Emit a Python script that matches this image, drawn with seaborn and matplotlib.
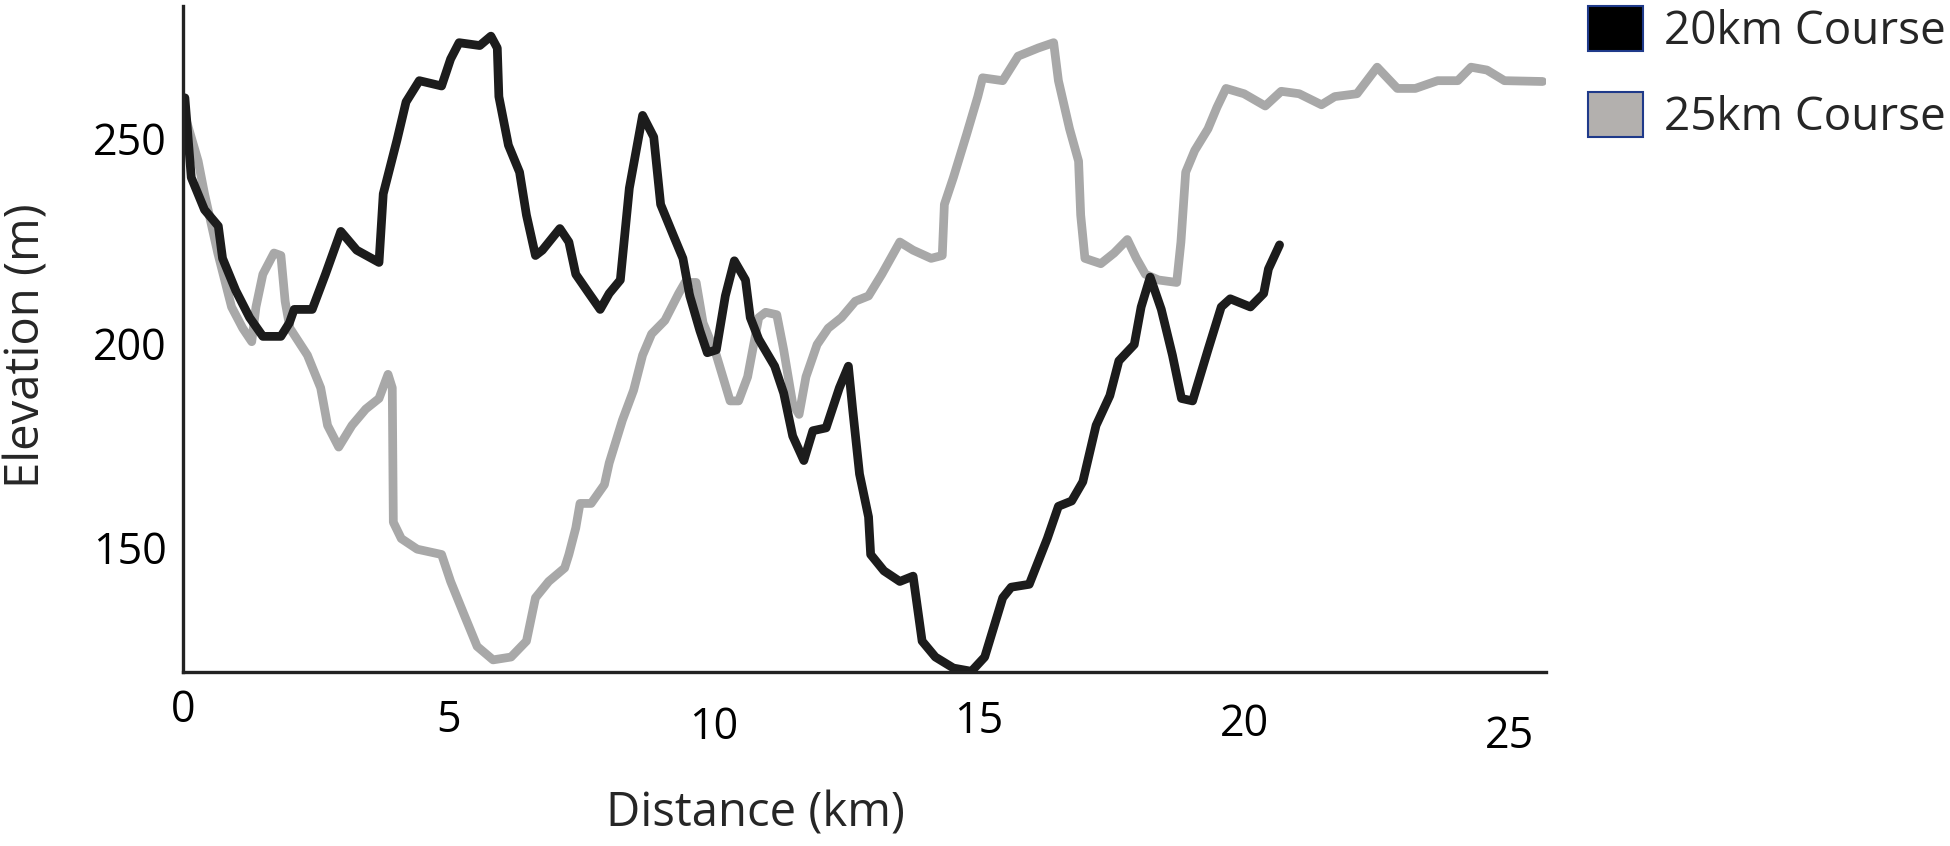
import pandas as pd
import matplotlib
matplotlib.use("Agg")
import matplotlib.pyplot as plt
from matplotlib.patches import Patch
import seaborn as sns

# 20 km course profile (distance km, elevation m)
km_20 = [0.03, 0.15, 0.4, 0.66, 0.74, 0.99, 1.25, 1.5, 1.84, 2.0, 2.09, 2.43, 2.68, 2.97,
         3.27, 3.69, 3.77, 4.03, 4.2, 4.45, 4.87, 5.04, 5.2, 5.59, 5.8, 5.92, 5.95, 6.13,
         6.34, 6.47, 6.64, 6.77, 7.1, 7.27, 7.4, 7.65, 7.86, 8.03, 8.24, 8.41, 8.66, 8.87,
         9.0, 9.25, 9.42, 9.55, 9.74, 9.88, 10.05, 10.22, 10.39, 10.6, 10.69, 10.85, 11.15,
         11.32, 11.49, 11.7, 11.87, 12.12, 12.37, 12.54, 12.62, 12.75, 12.92, 12.96, 13.21,
         13.51, 13.76, 13.93, 14.18, 14.52, 14.86, 15.11, 15.45, 15.61, 15.95, 16.29, 16.5,
         16.75, 16.96, 17.21, 17.47, 17.64, 17.93, 18.06, 18.23, 18.44, 18.65, 18.82, 19.03,
         19.32, 19.57, 19.74, 20.12, 20.37, 20.46, 20.67]
elev_20 = [260, 240.5, 232.6, 228.6, 220.7, 212.8, 206.2, 201.6, 201.6, 204.9, 208.2, 208.2,
           216.8, 227.3, 222.7, 219.7, 236.5, 249.7, 259, 264.2, 262.9, 269.5, 273.5, 272.8,
           275.1, 272.2, 260.3, 248.4, 241.8, 231.3, 221.4, 222.7, 228, 224.7, 216.8, 212.1,
           208.2, 212.1, 215.4, 237.9, 255.7, 250.4, 233.9, 226, 220.7, 211.5, 203, 197.6,
           198.3, 211.5, 220.1, 215.4, 206.2, 200.9, 194.3, 187.7, 177.2, 171.2, 178.5,
           179.2, 189, 194.3, 183.8, 167.9, 157.4, 148.2, 144.2, 141.6, 142.9, 127, 123.1,
           120.4, 119.6, 123.1, 137.6, 140.2, 140.9, 152.1, 160, 161.3, 166, 179.8, 187.1,
           195.6, 199.6, 208.8, 216.1, 208.2, 197, 186.4, 185.8, 198.3, 208.8, 210.8, 208.8,
           212.1, 218.1, 224]

# 25 km course profile
km_25 = [0.0, 0.28, 0.4, 0.65, 0.91, 1.12, 1.29, 1.37, 1.5, 1.71, 1.84, 1.92, 2.01, 2.34,
         2.59, 2.72, 2.93, 3.18, 3.44, 3.69, 3.86, 3.94, 3.96, 4.11, 4.41, 4.87, 5.04, 5.29,
         5.54, 5.84, 6.18, 6.47, 6.64, 6.89, 7.19, 7.27, 7.4, 7.48, 7.69, 7.94, 8.03, 8.28,
         8.49, 8.66, 8.83, 9.08, 9.34, 9.46, 9.67, 9.8, 10.05, 10.31, 10.47, 10.64, 10.85,
         10.98, 11.19, 11.32, 11.49, 11.61, 11.74, 11.95, 12.16, 12.41, 12.67, 12.92, 13.17,
         13.51, 13.76, 14.1, 14.31, 14.35, 14.52, 14.77, 14.98, 15.07, 15.45, 15.74, 16.12,
         16.41, 16.5, 16.71, 16.88, 16.92, 17.0, 17.3, 17.55, 17.8, 17.97, 18.14, 18.39,
         18.73, 18.81, 18.9, 19.07, 19.32, 19.49, 19.66, 20.0, 20.4, 20.7, 21.04, 21.46,
         21.71, 22.13, 22.51, 22.89, 23.23, 23.65, 24.03, 24.28, 24.58, 24.91, 25.63]
elev_25 = [257, 244.5, 236.5, 222, 208.8, 203.6, 200.3, 208.8, 216.8, 222, 221.4, 210.2,
           203.6, 197, 189, 179.8, 174.5, 179.8, 183.8, 186.4, 192.3, 189, 156.1, 152.1,
           149.5, 148.2, 141.6, 133.6, 125.7, 122.4, 123.1, 127, 137.6, 141.6, 144.9, 148.2,
           154.7, 160.7, 160.7, 165.3, 170.6, 181.1, 188.4, 197, 202.2, 205.5, 212.1, 214.8,
           214.8, 204.9, 197, 185.8, 185.8, 191.7, 206.2, 207.5, 206.9, 198.3, 185.1, 182.5,
           191.7, 199.6, 203.6, 206.2, 210.2, 211.5, 216.8, 224.7, 222.7, 220.7, 221.4, 233.9,
           240.5, 251.1, 260.3, 264.9, 264.2, 270.2, 272.2, 273.5, 264.2, 252.4, 244.5, 231.3,
           220.7, 219.4, 222, 225.3, 220.7, 216.8, 215.4, 214.8, 224.7, 241.8, 247.1, 252.4,
           257.7, 262.3, 261, 258, 261.6, 261, 258.3, 260.3, 261, 267.5, 262.3, 262.3, 264.2,
           264.2, 267.5, 266.8, 264.2, 264]

courses = ["25km Course", "20km Course"]
colours = {"20km Course": "#1c1c1c", "25km Course": "#a8a8a8"}
x_ticks = [0, 5, 10, 15, 20, 25]
y_ticks = [150, 200, 250]

sns.set_style("white")
plt.rcParams["font.family"] = ["Open Sans", "DejaVu Sans"]

fig = plt.figure(figsize=(19.5, 8.46), dpi=100)
ax = fig.add_axes([0.094, 0.206, 0.699, 0.787])

# grey course first so the black one sits on top where they cross
for name, km, elev in [(courses[0], km_25, elev_25), (courses[1], km_20, elev_20)]:
    part = pd.DataFrame({"km": km, "elev": elev})
    sns.lineplot(data=part, x="km", y="elev", color=colours[name], linewidth=6.3,
                 sort=False, ax=ax, solid_capstyle="round", solid_joinstyle="round")

ax.set_xlim(0, 25.7)
ax.set_ylim(119.5, 282.5)
ax.set_xticks(x_ticks)
ax.set_yticks(y_ticks)
ax.tick_params(axis="both", length=0, labelsize=31, colors="black")
ax.tick_params(axis="y", pad=12)
# the tick labels in the original sit at slightly uneven heights
for tick, pad in zip(ax.xaxis.get_major_ticks(), [12, 19, 24, 20, 22, 31]):
    tick.set_pad(pad)

for side in ["top", "right"]:
    ax.spines[side].set_visible(False)
for side in ["left", "bottom"]:
    ax.spines[side].set_color("#222222")
    ax.spines[side].set_linewidth(2.4)

ax.set_xlabel("Distance (km)", fontsize=34)
ax.set_ylabel("Elevation (m)", fontsize=34)
ax.xaxis.set_label_coords(0.42, -0.213)
ax.xaxis.label.set_va("center")
ax.yaxis.set_label_coords(-0.1145, 0.49)
ax.yaxis.label.set_va("center")

handles = [Patch(facecolor="#000000", edgecolor="#1f3a8a", linewidth=1.5, label="20km Course"),
           Patch(facecolor="#b3b0ae", edgecolor="#1f3a8a", linewidth=1.5, label="25km Course")]
fig.legend(handles=handles, loc="upper left", bbox_to_anchor=(0.8145, 0.993), frameon=False,
           fontsize=33, handlelength=1.2, handleheight=1.15, handletextpad=0.45,
           labelspacing=0.8, borderpad=0, borderaxespad=0)

fig.savefig("out.png", dpi=100)
